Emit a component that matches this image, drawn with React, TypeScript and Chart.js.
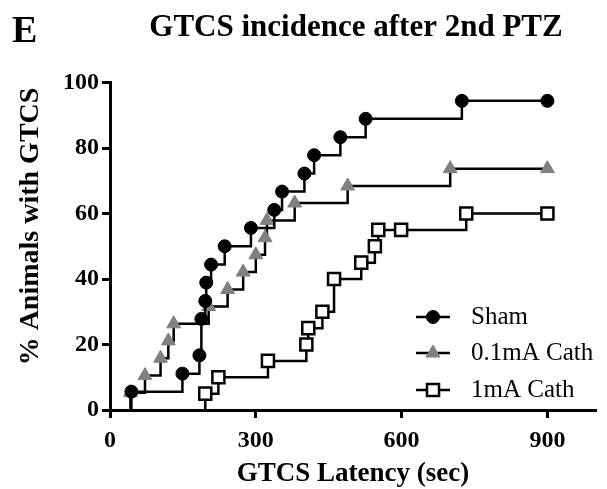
import React, { useEffect, useRef } from 'react';
import { Chart, registerables } from 'chart.js';
import { drawPoint } from 'chart.js/helpers';

Chart.register(...registerables);

// ---- data ----
const shamTimes = [44, 149, 184, 188, 196, 198, 208, 236, 290, 338, 354, 400, 420, 474, 526, 724, 900];
const shamPct = [5.6, 11.1, 16.7, 27.8, 33.3, 38.9, 44.4, 50.0, 55.6, 61.1, 66.7, 72.2, 77.8, 83.3, 88.9, 94.4, 94.4];

const cath01Times = [42, 72, 104, 120, 131, 203, 242, 274, 300, 319, 323, 380, 489, 700, 900];
const cath01Pct = [5.3, 10.5, 15.8, 21.1, 26.3, 31.6, 36.8, 42.1, 47.4, 52.6, 57.9, 63.2, 68.4, 73.7, 73.7];

const cath1Times = [196, 223, 325, 404, 408, 437, 461, 517, 545, 552, 599, 733, 900];
const cath1Pct = [5, 10, 15, 20, 25, 30, 40, 45, 50, 55, 55, 60, 60];

const seriesLabels = ['Sham', '0.1mA Cath', '1mA Cath'];
const xTicks = [0, 300, 600, 900];
const yTicks = [0, 20, 40, 60, 80, 100];

const panelLetter = 'E';
const chartTitle = 'GTCS incidence after 2nd PTZ';
const xTitle = 'GTCS Latency (sec)';
const yTitle = '% Animals with GTCS';

const FONT = '"Liberation Serif", "Times New Roman", serif';

function toSeries(times: number[], pct: number[]) {
  // curve starts from 0% at the first event time
  return [{ x: times[0], y: 0 }, ...times.map((t, i) => ({ x: t, y: pct[i] }))];
}

const hideFirst = (r: number) => (c: any) => (c.dataIndex === 0 ? 0 : r);

const decorPlugin = {
  id: 'decor',
  afterDraw(chart: any) {
    const ctx = chart.ctx as CanvasRenderingContext2D;
    const ca = chart.chartArea;
    ctx.save();
    ctx.fillStyle = '#000';
    ctx.textBaseline = 'alphabetic';

    ctx.textAlign = 'left';
    ctx.font = `bold 38px ${FONT}`;
    ctx.fillText(panelLetter, 12, 42);

    ctx.textAlign = 'center';
    ctx.font = `bold 31px ${FONT}`;
    ctx.fillText(chartTitle, 356, 36);

    ctx.font = `bold 27px ${FONT}`;
    ctx.fillText(xTitle, (ca.left + ca.right) / 2, 481);

    ctx.save();
    ctx.translate(38, 226.5);
    ctx.rotate(-Math.PI / 2);
    ctx.font = `bold 28px ${FONT}`;
    ctx.fillText(yTitle, 0, 0);
    ctx.restore();

    // legend
    const rows = [317, 353, 390];
    chart.data.datasets.forEach((ds: any, i: number) => {
      const y = rows[i];
      ctx.strokeStyle = '#000';
      ctx.lineWidth = 2.5;
      ctx.beginPath();
      ctx.moveTo(416, y);
      ctx.lineTo(450, y);
      ctx.stroke();
      ctx.fillStyle = ds.pointBackgroundColor;
      ctx.strokeStyle = ds.pointBorderColor;
      ctx.lineWidth = ds.pointBorderWidth;
      drawPoint(ctx, { pointStyle: ds.pointStyle, radius: ds.legendRadius, rotation: 0, borderWidth: ds.pointBorderWidth } as any, 433, y);
      ctx.fillStyle = '#000';
      ctx.textAlign = 'left';
      ctx.font = `25px ${FONT}`;
      ctx.fillText(ds.label, 471, y + 7);
    });
    ctx.restore();
  },
};

export default function App() {
  const ref = useRef<HTMLCanvasElement>(null);

  useEffect(() => {
    if (!ref.current) return;
    const lineStyle = { borderColor: '#000', borderWidth: 2.5, stepped: 'before' as const, fill: false, clip: false as any };
    const chart = new Chart(ref.current, {
      type: 'line',
      data: {
        datasets: [
          {
            label: seriesLabels[0],
            data: toSeries(shamTimes, shamPct),
            ...lineStyle,
            pointStyle: 'circle',
            pointRadius: hideFirst(6.5),
            legendRadius: 6.5,
            pointBackgroundColor: '#000',
            pointBorderColor: '#000',
            pointBorderWidth: 1,
          } as any,
          {
            label: seriesLabels[1],
            data: toSeries(cath01Times, cath01Pct),
            ...lineStyle,
            pointStyle: 'triangle',
            pointRadius: hideFirst(8),
            legendRadius: 8,
            pointBackgroundColor: '#808080',
            pointBorderColor: '#808080',
            pointBorderWidth: 1,
          } as any,
          {
            label: seriesLabels[2],
            data: toSeries(cath1Times, cath1Pct),
            ...lineStyle,
            pointStyle: 'rect',
            pointRadius: hideFirst(8.5),
            legendRadius: 8.5,
            pointBackgroundColor: '#fff',
            pointBorderColor: '#000',
            pointBorderWidth: 2.5,
          } as any,
        ],
      },
      options: {
        animation: false,
        responsive: false,
        devicePixelRatio: 1,
        layout: { padding: { left: 0, right: 3, top: 82.5, bottom: 0 } },
        plugins: { legend: { display: false }, title: { display: false }, tooltip: { enabled: false } },
        elements: { point: { hoverRadius: 0 } },
        scales: {
          x: {
            type: 'linear',
            min: 0,
            max: 1000,
            afterBuildTicks: (s: any) => { s.ticks = xTicks.map((v) => ({ value: v })); },
            afterFit: (s: any) => { s.height = 79; },
            border: { display: true, color: '#000', width: 3 },
            grid: { display: true, drawOnChartArea: false, drawTicks: true, tickLength: 8, tickWidth: 3, tickColor: '#000' },
            ticks: { autoSkip: false, maxRotation: 0, padding: 8, color: '#000', font: { family: FONT, size: 24, weight: 'bold' } },
          },
          y: {
            type: 'linear',
            min: 0,
            max: 100,
            afterBuildTicks: (s: any) => { s.ticks = yTicks.map((v) => ({ value: v })); },
            afterFit: (s: any) => { s.width = 110; },
            border: { display: true, color: '#000', width: 3 },
            grid: { display: true, drawOnChartArea: false, drawTicks: true, tickLength: 8, tickWidth: 3, tickColor: '#000' },
            ticks: { autoSkip: false, padding: 3, color: '#000', font: { family: FONT, size: 24, weight: 'bold' } },
          },
        },
      } as any,
      plugins: [decorPlugin],
    });
    return () => chart.destroy();
  }, []);

  return (
    <canvas
      ref={ref}
      width={607}
      height={489}
      style={{ position: 'absolute', left: 0, top: 0, width: 607, height: 489, display: 'block', background: '#fff' }}
    />
  );
}
